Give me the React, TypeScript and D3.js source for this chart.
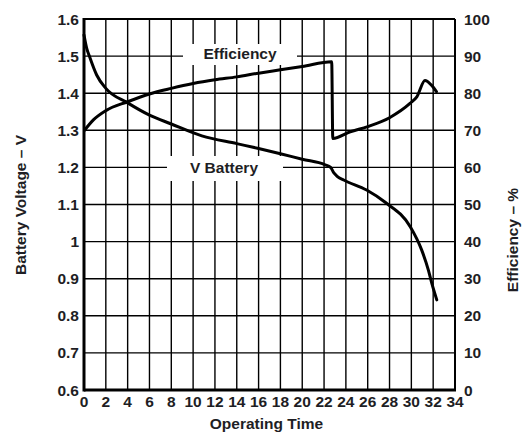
import React from "react";
import * as d3 from "d3";

const timeTicks = [0, 2, 4, 6, 8, 10, 12, 14, 16, 18, 20, 22, 24, 26, 28, 30, 32, 34];
const voltTicks = [0.6, 0.7, 0.8, 0.9, 1, 1.1, 1.2, 1.3, 1.4, 1.5, 1.6];
const voltLabels = ["0.6", "0.7", "0.8", "0.9", "1", "1.1", "1.2", "1.3", "1.4", "1.5", "1.6"];
const effTicks = [0, 10, 20, 30, 40, 50, 60, 70, 80, 90, 100];

const voltTime = [0, 0.25, 0.49, 1.16, 2, 4, 6, 8, 10.8, 14, 16, 18, 20, 22.1, 22.6, 22.9, 23.2, 23.8, 25.9, 27.6, 29.9, 30.95, 31.56, 31.87, 32.33];
const voltValues = [1.557, 1.521, 1.5, 1.449, 1.413, 1.374, 1.341, 1.317, 1.285, 1.264, 1.251, 1.237, 1.222, 1.207, 1.2, 1.185, 1.176, 1.166, 1.139, 1.106, 1.04, 0.977, 0.923, 0.888, 0.843];

const effTime = [0.05, 0.86, 2, 4, 6, 8, 10, 12, 14, 16, 18, 20, 22.7, 22.8, 24.4, 26, 28, 29.9, 30.5, 31.25, 31.8, 32.3];
const effValues = [70, 72.8, 75.3, 77.7, 79.8, 81.3, 82.6, 83.6, 84.4, 85.4, 86.3, 87.2, 88.5, 67.8, 69.6, 71, 73.4, 77.3, 79, 83.4, 82.3, 80.4];

const W = 528, H = 437;
const L = 84, R = 455, T = 19, B = 390;
const FONT = "'Liberation Sans', Arial, sans-serif";
const TXT = "#1e1e24";
const FS = 15.5;

export default function App() {
  const x = d3.scaleLinear().domain([0, 34]).range([L, R]);
  const yV = d3.scaleLinear().domain([0.6, 1.6]).range([B, T]);
  const yE = d3.scaleLinear().domain([0, 100]).range([B, T]);

  const voltPts: [number, number][] = voltTime.map((t, i) => [x(t), yV(voltValues[i])]);
  const effPts: [number, number][] = effTime.map((t, i) => [x(t), yE(effValues[i])]);
  const line = d3.line().curve(d3.curveMonotoneX);

  const innerT = timeTicks.filter((t) => t > 0 && t < 34);
  const innerV = voltTicks.filter((v) => v > 0.6 && v < 1.6);

  return (
    <svg width={W} height={H} style={{ position: "absolute", left: 0, top: 0, background: "#fff" }}>
      <rect x={0} y={0} width={W} height={H} fill="#fff" />
      {innerT.map((t) => (
        <line key={"vx" + t} x1={x(t)} x2={x(t)} y1={T} y2={B} stroke="#000" strokeWidth={1.4} />
      ))}
      {innerV.map((v) => (
        <line key={"hy" + v} x1={L} x2={R} y1={yV(v)} y2={yV(v)} stroke="#000" strokeWidth={1.4} />
      ))}
      {/* label boxes */}
      <rect x={183} y={44} width={114} height={21} fill="#fff" />
      <rect x={167} y={156} width={116} height={25} fill="#fff" />
      <text x={240} y={58.5} textAnchor="middle" fontFamily={FONT} fontWeight="bold" fontSize={FS} fill={TXT}>Efficiency</text>
      <text x={224} y={173} textAnchor="middle" fontFamily={FONT} fontWeight="bold" fontSize={FS} fill={TXT}>V Battery</text>
      {/* frame */}
      <line x1={L} x2={R} y1={T} y2={T} stroke="#000" strokeWidth={2} />
      <line x1={R} x2={R} y1={T} y2={B} stroke="#000" strokeWidth={2} />
      <line x1={L} x2={L} y1={T - 1} y2={B + 1.5} stroke="#000" strokeWidth={3} />
      <line x1={L} x2={R + 1} y1={B} y2={B} stroke="#000" strokeWidth={3} />
      {/* curves */}
      <path d={line(voltPts) || ""} fill="none" stroke="#000" strokeWidth={3} strokeLinejoin="round" strokeLinecap="round" />
      <path d={line(effPts) || ""} fill="none" stroke="#000" strokeWidth={3} strokeLinejoin="miter" strokeLinecap="round" />
      {/* left ticks */}
      {voltTicks.map((v, i) => (
        <text key={"lv" + v} x={79} y={yV(v)} dy="0.36em" textAnchor="end" fontFamily={FONT} fontWeight="bold" fontSize={FS} fill={TXT}>{voltLabels[i]}</text>
      ))}
      {/* right ticks */}
      {effTicks.map((e) => (
        <text key={"re" + e} x={464} y={yE(e)} dy="0.36em" textAnchor="start" fontFamily={FONT} fontWeight="bold" fontSize={FS} fill={TXT}>{e}</text>
      ))}
      {/* bottom ticks */}
      {timeTicks.map((t) => (
        <text key={"bt" + t} x={x(t)} y={407} textAnchor="middle" fontFamily={FONT} fontWeight="bold" fontSize={FS} fill={TXT}>{t}</text>
      ))}
      {/* axis titles */}
      <text x={266.5} y={429} textAnchor="middle" fontFamily={FONT} fontWeight="bold" fontSize={FS} fill={TXT}>Operating Time</text>
      <text transform={`translate(26,205) rotate(-90)`} textAnchor="middle" fontFamily={FONT} fontWeight="bold" fontSize={FS} fill={TXT}>Battery Voltage – V</text>
      <text transform={`translate(518,240) rotate(-90)`} textAnchor="middle" fontFamily={FONT} fontWeight="bold" fontSize={FS} fill={TXT}>Efficiency – %</text>
    </svg>
  );
}
